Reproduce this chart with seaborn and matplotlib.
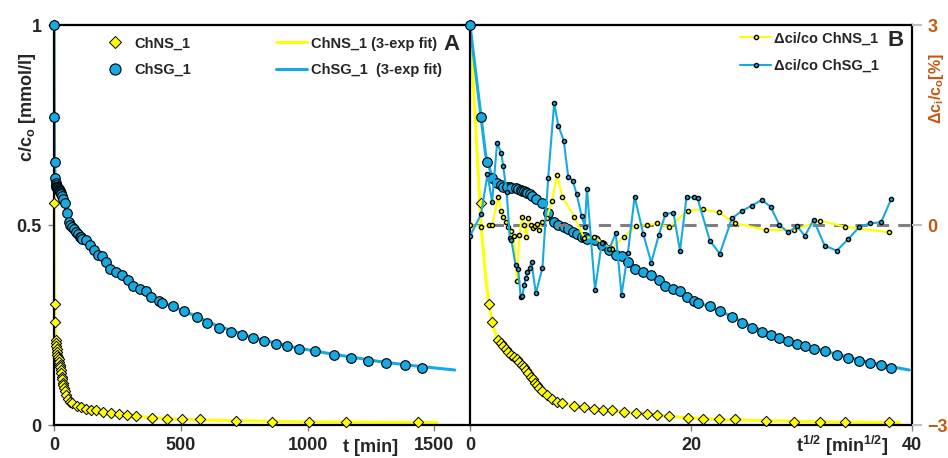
import numpy as np
import seaborn as sns
import matplotlib
matplotlib.use("Agg")
from matplotlib import pyplot as plt
from matplotlib.lines import Line2D

# ChSG_1 : time [min], c/co, residual [%]
sg_t = [0, 1, 2.5, 4, 6, 8, 9, 11, 13, 14, 17, 19, 21, 22.5, 24, 25.5, 27, 29, 31, 35.5, 43,
        50, 58, 64, 72, 79, 86.5, 93, 102, 108, 112, 128, 142, 159, 174, 188, 204, 222, 246, 269, 292,
        313, 339, 361, 384, 412, 424, 471, 511, 562, 605, 650, 697, 740, 784, 829, 876, 918, 967, 1030, 1102,
        1170, 1239, 1310, 1384, 1452]
sg_c = [1.0, 0.77, 0.657, 0.618, 0.604, 0.600, 0.596, 0.594, 0.594, 0.592, 0.592, 0.589, 0.588, 0.586,
        0.584, 0.582, 0.580, 0.577, 0.573, 0.565, 0.554,
        0.529, 0.508, 0.500, 0.494, 0.490, 0.483, 0.477, 0.471, 0.469, 0.466,
        0.462, 0.450, 0.4375, 0.425, 0.423, 0.408, 0.390, 0.383, 0.376, 0.3625,
        0.348, 0.339, 0.336, 0.321, 0.311, 0.306, 0.2975, 0.286, 0.270, 0.254,
        0.243, 0.232, 0.225, 0.218, 0.211, 0.2025, 0.1975, 0.189, 0.185, 0.176,
        0.168, 0.161, 0.154, 0.149, 0.142]
sg_d = [-0.165, 0.16, 0.76, 0.35, 1.225, 1.085, 0.885, 0.5, -0.2, -0.225, -0.6, -0.66, -1.075, -1.06,
        -0.9, -0.8, -0.7, -0.65, -0.56, -1.025, -0.64,
        0.7, 1.825, 1.485, 1.265, 0.725, 0.665, 0.465, 0.14, -0.025, 0.54,
        -0.975, -0.275, -0.36, -0.125, -1.05, -0.425, 0.425, -0.135, -0.565, -0.15,
        0.165, 0.185, -0.385, 0.415, 0.415, 0.4, -0.235, -0.43, 0.1, 0.21,
        0.29, 0.375, 0.275, 0.0, -0.11, -0.015, -0.165, 0.075, -0.31, -0.385,
        -0.215, -0.035, 0.025, 0.04, 0.385]

# ChNS_1 : time [min], c/co, residual [%]
ns_t = [0, 1, 3, 4, 6.5, 8, 9, 10.5, 12, 13.5, 15.5, 18, 20, 22, 24, 26, 28, 30, 32.5, 35, 37, 39.5, 42,
        48, 55, 62, 70, 89, 107, 125, 144, 164, 193, 225, 256, 287, 324, 388, 445, 506, 576, 718, 860,
        1005, 1150, 1436]
ns_c = [1.0, 0.556, 0.3025, 0.258, 0.2125, 0.204, 0.1975, 0.189, 0.183, 0.176, 0.171, 0.164, 0.158, 0.151,
        0.144, 0.137, 0.129, 0.121, 0.114, 0.106, 0.099, 0.092, 0.085,
        0.075, 0.065, 0.057, 0.054, 0.048, 0.045, 0.040, 0.038, 0.0375, 0.033,
        0.029, 0.027, 0.025, 0.023, 0.018, 0.014, 0.014, 0.014, 0.011, 0.008,
        0.007, 0.007, 0.007]
ns_d = [0.0, -0.025, 0.0, 0.0, 0.425, 0.215, 0.125, 0.05, -0.03, -0.085, -0.165, -0.835, -0.15, 0.125,
        0.0, -0.185, 0.1, 0.0, -0.05, -0.02, 0.015, -0.075, 0.05,
        0.1, 0.36, 0.75, 0.425, 0.125, -0.2, -0.175, -0.27, -0.365, -0.175,
        -0.015, 0.0, 0.025, -0.035, 0.215, 0.235, 0.19, 0.025, -0.075, -0.075,
        0.065, -0.025, -0.11]

# 3-exp fit curves
sg_fit_t = [0, 1, 2, 4, 8, 15, 25, 40, 60, 90, 130, 180, 250, 330, 420, 520, 640, 780, 940, 1100, 1300, 1450, 1580]
sg_fit_c = [1.0, 0.77, 0.675, 0.62, 0.600, 0.592, 0.582, 0.557, 0.506, 0.478, 0.458, 0.425, 0.38, 0.343,
            0.308, 0.283, 0.249, 0.219, 0.195, 0.177, 0.157, 0.146, 0.1375]
ns_fit_t = [0, 1, 2, 3, 4, 6, 10, 15, 20, 30, 40, 50, 60, 80, 120, 170, 250, 350, 500, 700, 1000, 1510]
ns_fit_c = [1.0, 0.50, 0.37, 0.30, 0.258, 0.215, 0.19, 0.17, 0.156, 0.12, 0.09, 0.07, 0.058, 0.05, 0.041,
            0.035, 0.028, 0.02, 0.014, 0.011, 0.008, 0.006]

sns.set_theme(style="white")
plt.rcParams['font.family'] = ['Liberation Sans', 'DejaVu Sans']
plt.rcParams['font.weight'] = 'bold'
plt.rcParams['mathtext.fontset'] = 'custom'
plt.rcParams['mathtext.rm'] = 'Liberation Sans:bold'
plt.rcParams['mathtext.it'] = 'Liberation Sans:bold'
plt.rcParams['mathtext.bf'] = 'Liberation Sans:bold'
plt.rcParams['mathtext.default'] = 'bf'

BLUE = '#17A9E1'
YEL = '#FFFF00'
ORANGE = '#C65911'
GREY = '#808080'

W, H = 948, 458
fig = plt.figure(figsize=(W / 100, H / 100), dpi=100)
axA = fig.add_axes([54 / W, 1 - 425 / H, 416 / W, 400 / H])
axB = fig.add_axes([470 / W, 1 - 425 / H, 442 / W, 400 / H])
axR = axB.twinx()

##Panel A: c/co vs t
sns.lineplot(x=ns_fit_t, y=ns_fit_c, ax=axA, color=YEL, lw=2.2, sort=False, estimator=None)
sns.lineplot(x=sg_fit_t, y=sg_fit_c, ax=axA, color=BLUE, lw=2.2, sort=False, estimator=None)
sns.scatterplot(x=ns_t, y=ns_c, ax=axA, marker='D', s=28, color=YEL, edgecolor='black',
                linewidth=0.7, zorder=4, clip_on=False, legend=False)
sns.scatterplot(x=sg_t, y=sg_c, ax=axA, marker='o', s=48, color=BLUE, edgecolor='black',
                linewidth=0.8, zorder=5, clip_on=False, legend=False)

##Panel B: c/co vs sqrt(t) plus residuals
sns.lineplot(x=np.sqrt(ns_fit_t), y=ns_fit_c, ax=axB, color=YEL, lw=2.2, sort=False, estimator=None)
sns.lineplot(x=np.sqrt(sg_fit_t), y=sg_fit_c, ax=axB, color=BLUE, lw=2.2, sort=False, estimator=None)
sns.scatterplot(x=np.sqrt(ns_t), y=ns_c, ax=axB, marker='D', s=28, color=YEL, edgecolor='black',
                linewidth=0.7, zorder=4, clip_on=False, legend=False)
sns.scatterplot(x=np.sqrt(sg_t), y=sg_c, ax=axB, marker='o', s=48, color=BLUE, edgecolor='black',
                linewidth=0.8, zorder=5, clip_on=False, legend=False)

axR.axhline(0, color=GREY, lw=2.2, ls=(0, (4, 3)), zorder=1)
sns.lineplot(x=np.sqrt(ns_t), y=ns_d, ax=axR, color=YEL, lw=1.5, marker='o', markersize=3,
             markerfacecolor=YEL, markeredgecolor='black', markeredgewidth=1.0,
             sort=False, estimator=None, zorder=3)
sns.lineplot(x=np.sqrt(sg_t), y=sg_d, ax=axR, color=BLUE, lw=1.5, marker='o', markersize=3,
             markerfacecolor=BLUE, markeredgecolor='black', markeredgewidth=1.0,
             sort=False, estimator=None, zorder=4)

##Axes
axA.set_xlim(0, 1640)
axA.set_ylim(0, 1)
axB.set_xlim(0, 40)
axB.set_ylim(0, 1)
axR.set_ylim(-3, 3)

axA.set_xticks([0, 500, 1000, 1500])
axA.set_yticks([0, 0.5, 1])
axA.set_yticklabels(['0', '0.5', '1'])
axB.set_xticks([0, 20, 40])
axB.set_yticks([])
axR.set_yticks([-3, 0, 3])

for ax in (axA, axB, axR):
    ax.set_xlabel('')
    ax.set_ylabel('')
    for sp in ax.spines.values():
        sp.set_color('black')
        sp.set_linewidth(1.6)
axA.spines['right'].set_visible(False)
for sp in axR.spines.values():
    sp.set_visible(False)

axA.tick_params(axis='both', direction='out', length=4, width=1, color=GREY, labelsize=13, pad=5,
                bottom=True, left=True)
axB.tick_params(axis='x', direction='out', length=4, width=1, color=GREY, labelsize=13, pad=5, bottom=True)
axR.tick_params(axis='y', direction='out', length=7, width=1.5, color='#BFBFBF', labelsize=13,
                labelcolor=ORANGE, pad=4, right=True)

##Texts
fig.text(371 / W, 1 - 448 / H, 't [min]', ha='center', va='center', fontsize=13, weight='bold')
fig.text(842 / W, 1 - 446 / H, 't$^{1/2}$ [min$^{1/2}$]', ha='center', va='center', fontsize=13,
         weight='bold')
fig.text(28 / W, 1 - 107 / H, 'c/c$_o$ [mmol/l]', rotation=90, ha='center', va='center', fontsize=13,
         weight='bold')
fig.text(937 / W, 1 - 89 / H, 'Δc$_i$/c$_o$[%]', rotation=90, ha='center', va='center', fontsize=11.5,
         weight='bold', color=ORANGE)
fig.text(452 / W, 1 - 45 / H, 'A', ha='center', va='center', fontsize=16, weight='bold')
fig.text(896 / W, 1 - 41 / H, 'B', ha='center', va='center', fontsize=16, weight='bold')

##Legends
hA = [Line2D([], [], ls='none', marker='D', ms=6, mfc=YEL, mec='black', mew=0.7),
      Line2D([], [], ls='none', marker='o', ms=8, mfc=BLUE, mec='black', mew=0.8),
      Line2D([], [], color=YEL, lw=2.2),
      Line2D([], [], color=BLUE, lw=2.2)]
lA = ['ChNS_1', 'ChSG_1', 'ChNS_1 (3-exp fit)', 'ChSG_1  (3-exp fit)']
axA.legend(hA, lA, ncol=2, frameon=False, loc='upper left', bbox_to_anchor=(0.11, 0.971),
           borderpad=0, borderaxespad=0, handlelength=2.1, handletextpad=0.3, columnspacing=5.8,
           labelspacing=0.84, prop={'size': 10.5, 'weight': 'bold'})

hB = [Line2D([], [], color=YEL, lw=1.5, marker='o', ms=3, mfc=YEL, mec='black', mew=1.0),
      Line2D([], [], color=BLUE, lw=1.5, marker='o', ms=3, mfc=BLUE, mec='black', mew=1.0)]
lB = ['Δci/co ChNS_1', 'Δci/co ChSG_1']
axR.legend(hB, lB, frameon=False, loc='upper left', bbox_to_anchor=(0.611, 0.9835),
           borderpad=0, borderaxespad=0, handlelength=2.15, handletextpad=0.2,
           labelspacing=0.9, prop={'size': 10.5, 'weight': 'bold'})

fig.savefig('out.png', dpi=100)
